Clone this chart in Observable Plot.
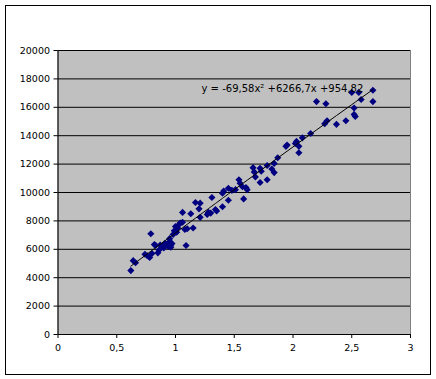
<!DOCTYPE html>
<html>
<head>
<meta charset="utf-8">
<script src="https://cdn.jsdelivr.net/npm/d3@7"></script>
<script src="https://cdn.jsdelivr.net/npm/@observablehq/plot@0.6"></script>
<style>
  html, body { margin: 0; padding: 0; background: #ffffff; }
  #wrap { position: relative; width: 436px; height: 379px; }
  #border { position: absolute; left: 5px; top: 5px; width: 424px; height: 368px; border: 1px solid #000; pointer-events: none; }
  #chart { position: absolute; left: 0; top: 0; }
</style>
</head>
<body>
<div id="wrap"><div id="chart"></div><div id="border"></div></div>
<script>
const xValues = [0.62,0.64,0.66,0.74,0.76,0.78,0.79,0.80,0.82,0.83,0.85,0.86,0.87,0.90,0.91,0.93,0.94,0.95,0.95,0.96,0.96,0.97,0.98,0.99,1.00,1.01,1.02,1.03,1.04,1.06,1.06,1.08,1.09,1.10,1.13,1.15,1.17,1.20,1.21,1.21,1.27,1.28,1.30,1.31,1.34,1.35,1.40,1.40,1.41,1.45,1.45,1.48,1.51,1.54,1.55,1.57,1.58,1.60,1.61,1.66,1.67,1.68,1.72,1.72,1.73,1.78,1.78,1.82,1.84,1.84,1.87,1.94,1.95,2.02,2.03,2.05,2.05,2.08,2.15,2.20,2.27,2.28,2.29,2.37,2.45,2.50,2.52,2.52,2.53,2.56,2.58,2.68,2.68];
const yValues = [4500,5200,5050,5650,5550,5420,7100,5700,6330,6280,5750,5950,6300,6100,6420,6350,6200,6550,6750,6300,6150,6400,7050,7300,7600,7200,7500,7750,7850,8600,7900,7400,6270,7450,8500,7500,9300,8850,9250,8250,8450,8600,8550,9650,8800,8700,9000,9950,10100,10300,9450,10150,10200,10900,10650,10400,9550,10350,10200,11750,11450,11100,11700,10700,11500,11900,10900,11650,12050,11400,12450,13250,13350,13450,13600,12800,13250,13850,14150,16400,14850,16250,15050,14800,15050,17050,15950,15500,15350,17050,16550,17200,16400];
const trendCoef = [-69.58, 6266.7, 954.82]; // a x² + b x + c
const equationLabel = "y = -69,58x² +6266,7x +954,82";
const xTicks = [0, 0.5, 1, 1.5, 2, 2.5, 3];
const yTicks = [0, 2000, 4000, 6000, 8000, 10000, 12000, 14000, 16000, 18000, 20000];

const points = xValues.map((x, i) => ({x, y: yValues[i]}));
const trendX = Array.from(new Set(xValues)).sort((a, b) => a - b);
const trend = trendX.map(x => ({x, y: trendCoef[0]*x*x + trendCoef[1]*x + trendCoef[2]}));
const fmt = d => String(d).replace(".", ",");

const chart = Plot.plot({
  width: 436,
  height: 379,
  marginLeft: 57.5,
  marginRight: 26,
  marginTop: 50,
  marginBottom: 45,
  style: {fontFamily: "'DejaVu Sans', sans-serif", fontSize: "9.5px", color: "#000", background: "transparent"},
  x: {domain: [0, 3]},
  y: {domain: [0, 20000]},
  marks: [
    Plot.frame({fill: "#c0c0c0", stroke: "#808080"}),
    Plot.gridY(yTicks.filter(d => d > 0), {stroke: "#000", strokeOpacity: 1}),
    Plot.axisX({ticks: xTicks, tickFormat: fmt, tickSize: 4, tickPadding: 6, stroke: "#000", fill: "#000", label: null}),
    Plot.axisY({ticks: yTicks, tickFormat: d => String(d), tickSize: 4, tickPadding: 4, stroke: "#000", fill: "#000", label: null}),
    Plot.ruleY([0], {stroke: "#000"}),
    Plot.ruleX([0], {stroke: "#000"}),
    Plot.dot(points, {x: "x", y: "y", symbol: "diamond2", r: 3.2, fill: "#000080", stroke: "none"}),
    Plot.line(trend, {x: "x", y: "y", stroke: "#000", strokeWidth: 1}),
    Plot.text([equationLabel], {frameAnchor: "top-left", text: d => d, textAnchor: "start", lineAnchor: "bottom", dx: 143.5, dy: 41.5, fontSize: 10, fill: "#000"})
  ]
});
document.getElementById("chart").appendChild(chart);
</script>
</body>
</html>
